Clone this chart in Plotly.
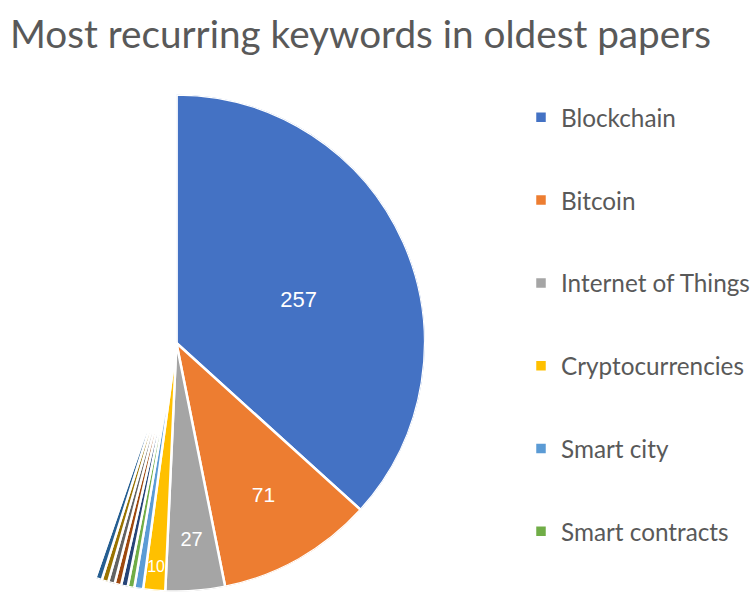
import plotly.graph_objects as go

# ---- data ----
keywords = ["Blockchain", "Bitcoin", "Internet of Things", "Cryptocurrencies",
            "Smart city", "Smart contracts",
            "Keyword 7", "Keyword 8", "Keyword 9", "Keyword 10", "Keyword 11",
            "Other keywords"]
counts = [257, 71, 27, 10, 4, 3, 3, 3, 3, 3, 3, 313]
legend_items = ["Blockchain", "Bitcoin", "Internet of Things", "Cryptocurrencies",
                "Smart city", "Smart contracts"]
labelled = ["Blockchain", "Bitcoin", "Internet of Things", "Cryptocurrencies"]

# ---- style ----
colors = ["#4472C4", "#ED7D31", "#A5A5A5", "#FFC000", "#5B9BD5", "#70AD47",
          "#264478", "#9E480E", "#636363", "#997300", "#255E91", "#FFFFFF"]
label_r = {"Blockchain": 0.52, "Bitcoin": 0.71, "Internet of Things": 0.80,
           "Cryptocurrencies": 0.91}
label_size = {"Blockchain": 22, "Bitcoin": 21, "Internet of Things": 20,
              "Cryptocurrencies": 16}
label_theta_shift = {"Blockchain": 5, "Bitcoin": 0, "Internet of Things": 0,
                     "Cryptocurrencies": 0}

total = sum(counts)
widths = [c / total * 360 for c in counts]
mids = []
acc = 0
for w in widths:
    mids.append(acc + w / 2)
    acc += w

fig = go.Figure()
for kw, c, w, m, col in zip(keywords, counts, widths, mids, colors):
    fig.add_trace(go.Barpolar(
        r=[1], theta=[m], width=[w], base=0, name=kw,
        marker=dict(color=col, line=dict(color="white", width=2.5)),
        showlegend=kw in legend_items, legendgroup=kw,
        hovertemplate=f"{kw}: {c}<extra></extra>",
    ))

lab_idx = [keywords.index(k) for k in labelled]
fig.add_trace(go.Scatterpolar(
    r=[label_r[k] for k in labelled],
    theta=[mids[i] + label_theta_shift[keywords[i]] for i in lab_idx],
    text=[str(counts[i]) for i in lab_idx],
    mode="text",
    textfont=dict(color="white", size=[label_size[k] for k in labelled],
                  family="Liberation Sans, Arial, sans-serif"),
    showlegend=False, hoverinfo="skip",
))

W, H = 753, 598
cx, cy, R = 176, 343, 249
fig.update_layout(
    width=W, height=H,
    margin=dict(l=0, r=0, t=0, b=0, autoexpand=False),
    paper_bgcolor="white",
    title=dict(text="Most recurring keywords in oldest papers",
               x=10 / W, xanchor="left", y=1 - 34 / H, yanchor="middle",
               font=dict(family="Lato, sans-serif", size=38.7, color="#595959")),
    polar=dict(
        domain=dict(x=[0, (cx + R) / W], y=[1 - (cy + R) / H, 1 - (cy - R) / H]),
        sector=[-135.2, 90],
        bgcolor="white",
        hole=0,
        radialaxis=dict(range=[0, 1], visible=False, showgrid=False),
        angularaxis=dict(visible=False, rotation=90, direction="clockwise",
                         showgrid=False),
        barmode="overlay",
    ),
    legend=dict(x=521 / W, xanchor="left", y=1 - 95 / H, yanchor="top",
                font=dict(family="Lato, sans-serif", size=24.3, color="#595959"),
                tracegroupgap=48.2, bgcolor="rgba(0,0,0,0)"),
)

fig.write_html("out.html")
